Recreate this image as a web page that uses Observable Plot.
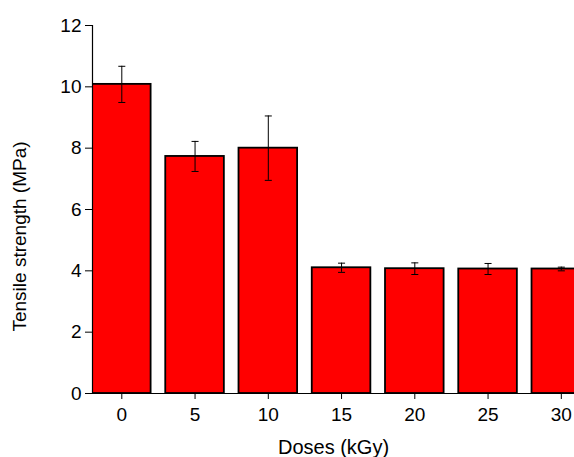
<!DOCTYPE html>
<html>
<head>
<meta charset="utf-8">
<script src="https://cdn.jsdelivr.net/npm/d3@7"></script>
<script src="https://cdn.jsdelivr.net/npm/@observablehq/plot@0.6"></script>
<style>
  html, body { margin: 0; padding: 0; background: white; overflow: hidden; }
</style>
</head>
<body>
<div id="chart"></div>
<script>
const doses = [0, 5, 10, 15, 20, 25, 30];
const tensile = [10.08, 7.73, 8.0, 4.10, 4.07, 4.06, 4.06];
const errors = [0.59, 0.49, 1.05, 0.15, 0.19, 0.18, 0.06];
const yTicks = [0, 2, 4, 6, 8, 10, 12];
const xTicks = [0, 5, 10, 15, 20, 25, 30];
const xTitle = "Doses (kGy)";
const yTitle = "Tensile strength (MPa)";

const data = doses.map((d, i) => ({dose: d, value: tensile[i], err: errors[i]}));
const halfWidth = 2;
const capHalf = 0.24;

const chart = Plot.plot({
  width: 574,
  height: 457,
  marginLeft: 92,
  marginRight: 0,
  marginTop: 25,
  marginBottom: 64,
  style: {fontFamily: "'Liberation Sans', Arial, sans-serif", fontSize: "19px", color: "black", background: "white"},
  x: {domain: [-2, 30.9]},
  y: {domain: [0, 12]},
  marks: [
    Plot.rect(data, {
      x1: d => d.dose - halfWidth, x2: d => d.dose + halfWidth,
      y1: 0, y2: "value",
      fill: "#ff0000", stroke: "black", strokeWidth: 1.8, clip: true
    }),
    Plot.ruleX(data, {x: "dose", y1: d => d.value - d.err, y2: d => d.value + d.err, stroke: "black", strokeWidth: 1}),
    Plot.link(data, {x1: d => d.dose - capHalf, x2: d => d.dose + capHalf, y1: d => d.value + d.err, y2: d => d.value + d.err, stroke: "black", strokeWidth: 1}),
    Plot.link(data, {x1: d => d.dose - capHalf, x2: d => d.dose + capHalf, y1: d => d.value - d.err, y2: d => d.value - d.err, stroke: "black", strokeWidth: 1}),
    Plot.ruleY([0], {stroke: "black", strokeWidth: 1}),
    Plot.ruleX([-2], {stroke: "black", strokeWidth: 1.2}),
    Plot.axisY({
      ticks: yTicks, tickSize: 7, tickPadding: 4, tickFormat: d3.format("d"),
      label: null, fontSize: 19
    }),
    Plot.axisX({
      ticks: xTicks, tickSize: 6, tickPadding: 8, tickFormat: d3.format("d"),
      label: null, fontSize: 19
    }),
    Plot.text([xTitle], {frameAnchor: "bottom", dy: 54, lineAnchor: "middle", fontSize: 20, fill: "black"}),
    Plot.text([yTitle], {frameAnchor: "left", textAnchor: "middle", rotate: -90, dx: -73, dy: 27, lineAnchor: "middle", fontSize: 19, fill: "black"})
  ]
});
document.getElementById("chart").appendChild(chart);
</script>
</body>
</html>
